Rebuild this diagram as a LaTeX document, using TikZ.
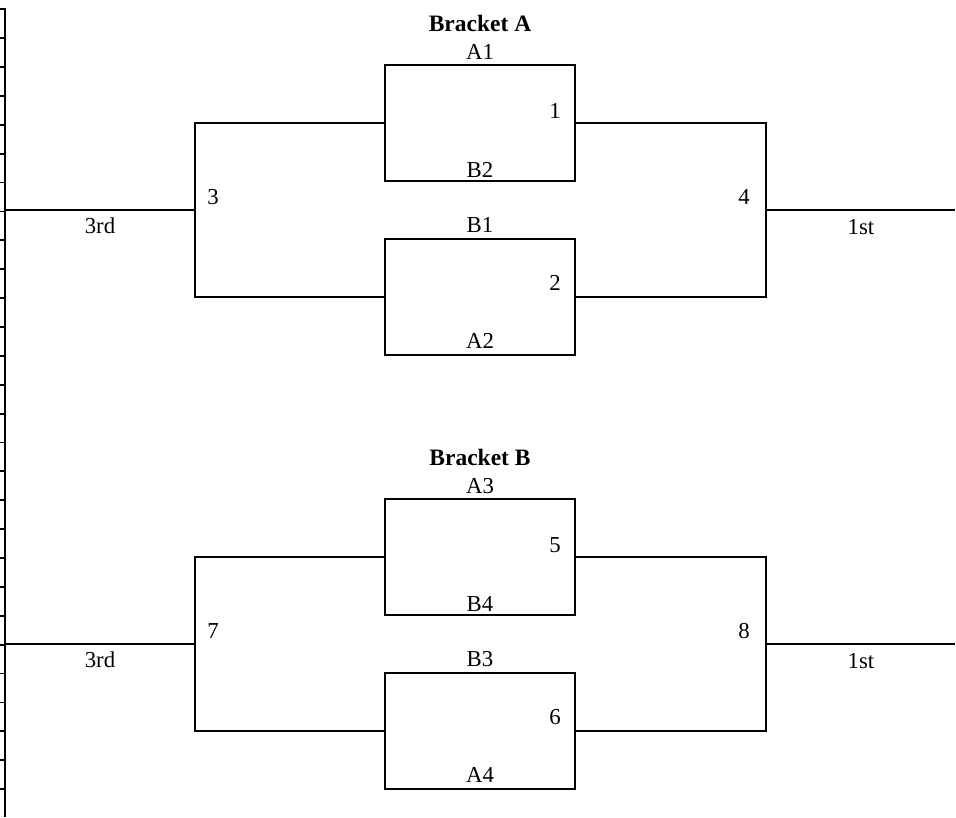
\documentclass[tikz,border=0pt]{standalone}
\usepackage{fontspec}
\setmainfont{Liberation Serif}
\begin{document}
\begin{tikzpicture}[x=1pt,y=-1pt,
  line width=2pt,
  matchbox/.style={draw, rectangle, line width=2pt, inner sep=0pt, outer sep=0pt, minimum width=190pt, minimum height=116pt},
  lbl/.style={inner sep=0pt, font=\fontsize{22.8}{27}\selectfont},
  ttl/.style={inner sep=0pt, font=\fontsize{23.5}{28}\selectfont\bfseries},
  conn/.style={draw, line width=2pt},
  tick/.style={line width=1.8pt}]
\useasboundingbox (0,0) rectangle (956,817);
% left border with ticks
\draw[line width=2pt] (5,8) -- (5,817);
\foreach \i in {0,...,27} { \draw[tick] (0,{9.3+\i*28.88}) -- (5,{9.3+\i*28.88}); }
% two brackets
\foreach \off/\ta/\m/\n/\s/\f/\aa/\bb/\cc/\dd/\br in {0/A1/1/2/3/4/B2/B1/A2/A/A,434/A3/5/6/7/8/B4/B3/A4/B/B}{
  \begin{scope}[yshift=-\off pt]
    \node[ttl] (title\br) at (480,23) {Bracket \br};
    \node[matchbox] (top\br) at (480,123) {};
    \node[matchbox] (bot\br) at (480,296.5) {};
    \node[lbl] (lta\br) at (480,52) {\ta};
    \node[lbl] (ltb\br) at (480,170) {\aa};
    \node[lbl] (lba\br) at (480,225) {\bb};
    \node[lbl] (lbb\br) at (480,341) {\cc};
    \node[lbl] (nm\br) at (555,111) {\m};
    \node[lbl] (nn\br) at (555,283) {\n};
    \node[lbl] (ns\br) at (213,197) {\s};
    \node[lbl] (nf\br) at (744,197) {\f};
    \node[lbl] (third\br) at (100,226) {3rd};
    \node[lbl] (first\br) at (861,227) {1st};
    \coordinate (cl\br) at (195,210);
    \coordinate (cr\br) at (766,210);
    \coordinate (el\br) at (5,210);
    \coordinate (er\br) at (955,210);
    \draw[conn] (top\br.west) -| (cl\br) |- (bot\br.west);
    \draw[conn] (top\br.east) -| (cr\br) |- (bot\br.east);
    \draw[conn] (cl\br) -- (el\br);
    \draw[conn] (cr\br) -- (er\br);
  \end{scope}
}
\end{tikzpicture}
\end{document}
